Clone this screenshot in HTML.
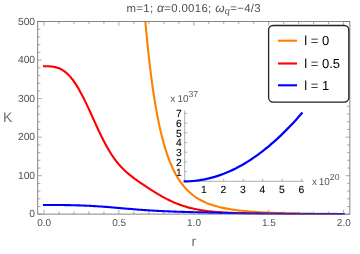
<!DOCTYPE html><html><head><meta charset="utf-8"><style>html,body{margin:0;padding:0;background:#fff}svg{display:block}text{font-family:"Liberation Sans",sans-serif;text-rendering:geometricPrecision}</style></head><body>
<svg width="360" height="254" viewBox="0 0 360 254">
<rect width="360" height="254" fill="#fff"/>
<filter id="nf" x="0" y="0" width="360" height="254" filterUnits="userSpaceOnUse" color-interpolation-filters="sRGB"><feOffset dx="0" dy="0"/></filter><g filter="url(#nf)">
<clipPath id="c"><rect x="37.7" y="21.5" width="312.15000000000003" height="193.0"/></clipPath>
<g clip-path="url(#c)" fill="none" stroke-width="2.1" stroke-linejoin="round" stroke-linecap="square">
<path d="M139.87,-54.97 L140.21,-49.33 L140.55,-43.82 L140.89,-38.45 L141.23,-33.21 L141.57,-28.09 L141.91,-23.10 L142.25,-18.22 L142.59,-13.47 L142.92,-8.82 L143.26,-4.29 L143.60,0.14 L143.94,4.46 L144.28,8.68 L144.62,12.81 L144.96,16.83 L145.30,20.76 L145.64,24.61 L145.98,28.36 L146.32,32.03 L146.66,35.61 L146.99,39.11 L147.33,42.53 L147.67,45.87 L148.01,49.14 L148.35,52.33 L148.69,55.45 L149.03,58.51 L149.37,61.49 L149.71,64.41 L150.05,67.26 L150.39,70.05 L150.73,72.78 L151.06,75.44 L151.40,78.05 L151.74,80.60 L152.08,83.10 L152.42,85.54 L152.76,87.93 L153.10,90.27 L153.44,92.56 L153.78,94.80 L154.12,96.99 L154.46,99.13 L154.80,101.23 L155.13,103.28 L155.47,105.29 L155.81,107.26 L156.15,109.19 L156.49,111.07 L156.83,112.92 L157.17,114.73 L157.51,116.50 L157.85,118.23 L158.19,119.93 L158.53,121.59 L158.87,123.22 L159.20,124.82 L159.54,126.38 L159.88,127.91 L160.22,129.42 L160.56,130.89 L160.90,132.33 L161.24,133.74 L161.58,135.12 L161.92,136.48 L162.26,137.81 L162.60,139.11 L162.94,140.38 L163.27,141.63 L163.61,142.86 L163.95,144.06 L164.29,145.24 L164.63,146.40 L164.97,147.53 L165.31,148.64 L165.65,149.73 L165.99,150.80 L166.33,151.85 L166.67,152.88 L167.01,153.89 L167.34,154.87 L167.68,155.84 L168.02,156.80 L168.36,157.73 L168.70,158.65 L169.04,159.54 L169.38,160.43 L169.72,161.29 L170.06,162.14 L170.40,162.97 L170.74,163.79 L171.08,164.59 L171.41,165.38 L171.75,166.15 L172.09,166.91 L172.43,167.66 L172.77,168.39 L173.11,169.11 L173.45,169.81 L173.79,170.51 L174.13,171.18 L174.47,171.85 L174.81,172.51 L175.15,173.15 L175.48,173.78 L175.82,174.40 L176.16,175.01 L176.50,175.61 L176.84,176.20 L177.18,176.78 L177.52,177.34 L177.86,177.90 L178.20,178.45 L178.54,178.99 L178.88,179.52 L179.22,180.04 L179.55,180.55 L179.89,181.05 L180.23,181.54 L180.57,182.02 L180.91,182.50 L181.25,182.97 L181.59,183.43 L181.93,183.88 L182.27,184.32 L182.61,184.76 L182.95,185.19 L183.29,185.61 L183.62,186.03 L183.96,186.43 L184.30,186.83 L184.64,187.23 L184.98,187.62 L185.32,188.00 L185.66,188.37 L186.00,188.74 L186.34,189.10 L186.68,189.46 L187.02,189.81 L187.36,190.15 L187.69,190.49 L188.03,190.83 L188.37,191.16 L188.71,191.48 L189.05,191.80 L189.39,192.11 L189.73,192.42 L190.07,192.72 L190.41,193.02 L190.75,193.31 L191.09,193.60 L191.43,193.88 L191.76,194.16 L192.10,194.43 L192.44,194.70 L192.78,194.97 L193.12,195.23 L193.46,195.49 L193.80,195.74 L196.34,197.52 L198.88,199.10 L201.42,200.50 L203.96,201.76 L206.49,202.89 L209.03,203.90 L211.57,204.80 L214.11,205.62 L216.65,206.35 L219.19,207.01 L221.73,207.61 L224.27,208.15 L226.81,208.64 L229.35,209.09 L231.88,209.49 L234.42,209.86 L236.96,210.19 L239.50,210.50 L242.04,210.78 L244.58,211.03 L247.12,211.27 L249.66,211.48 L252.20,211.68 L254.74,211.86 L257.27,212.02 L259.81,212.18 L262.35,212.32 L264.89,212.45 L267.43,212.57 L269.97,212.68 L272.51,212.78 L275.05,212.87 L277.59,212.96 L280.13,213.04 L282.66,213.11 L285.20,213.18 L287.74,213.25 L290.28,213.31 L292.82,213.37 L295.36,213.42 L297.90,213.47 L300.44,213.51 L302.98,213.55 L305.52,213.59 L308.05,213.63 L310.59,213.66 L313.13,213.70 L315.67,213.73 L318.21,213.76 L320.75,213.78 L323.29,213.81 L325.83,213.83 L328.37,213.85 L330.91,213.87 L333.44,213.89 L335.98,213.91 L338.52,213.93 L341.06,213.94 L343.60,213.96" stroke="#ff8000"/>
<path d="M44.01,66.26 L44.96,66.26 L45.90,66.26 L46.84,66.27 L47.78,66.28 L48.73,66.32 L49.67,66.36 L50.61,66.43 L51.55,66.51 L52.49,66.62 L53.44,66.76 L54.38,66.93 L55.32,67.13 L56.26,67.37 L57.20,67.65 L58.15,67.97 L59.09,68.33 L60.03,68.74 L60.97,69.20 L61.91,69.71 L62.86,70.28 L63.80,70.90 L64.74,71.58 L65.68,72.32 L66.62,73.12 L67.57,73.98 L68.51,74.90 L69.45,75.89 L70.39,76.94 L71.33,78.06 L72.28,79.24 L73.22,80.48 L74.16,81.79 L75.10,83.16 L76.04,84.60 L76.99,86.09 L77.93,87.64 L78.87,89.25 L79.81,90.92 L80.75,92.64 L81.70,94.40 L82.64,96.22 L83.58,98.07 L84.52,99.97 L85.46,101.90 L86.41,103.87 L87.35,105.87 L88.29,107.89 L89.23,109.93 L90.18,111.98 L91.12,114.05 L92.06,116.13 L93.00,118.21 L93.94,120.29 L94.89,122.37 L95.83,124.43 L96.77,126.48 L97.71,128.52 L98.65,130.53 L99.60,132.52 L100.54,134.49 L101.48,136.42 L102.42,138.31 L103.36,140.18 L104.31,142.00 L105.25,143.78 L106.19,145.52 L107.13,147.21 L108.07,148.86 L109.02,150.46 L109.96,152.01 L110.90,153.52 L111.84,154.98 L112.78,156.39 L113.73,157.75 L114.67,159.07 L115.61,160.34 L116.55,161.57 L117.49,162.75 L118.44,163.89 L119.38,164.99 L120.32,166.05 L121.26,167.07 L122.20,168.06 L123.15,169.02 L124.09,169.94 L125.03,170.83 L125.97,171.70 L126.91,172.54 L127.86,173.36 L128.80,174.15 L129.74,174.92 L130.68,175.68 L131.63,176.42 L132.57,177.14 L133.51,177.85 L134.45,178.55 L135.39,179.24 L136.34,179.92 L137.28,180.59 L138.22,181.25 L139.16,181.91 L140.10,182.56 L141.05,183.20 L141.99,183.84 L142.93,184.47 L143.87,185.10 L144.81,185.73 L145.76,186.36 L146.70,186.98 L147.64,187.59 L148.58,188.21 L149.52,188.81 L150.47,189.42 L151.41,190.02 L152.35,190.62 L153.29,191.21 L154.23,191.80 L155.18,192.38 L156.12,192.96 L157.06,193.53 L158.00,194.10 L158.94,194.65 L159.89,195.21 L160.83,195.75 L161.77,196.29 L162.71,196.81 L163.65,197.33 L164.60,197.85 L165.54,198.35 L166.48,198.84 L167.42,199.33 L168.36,199.80 L169.31,200.26 L170.25,200.72 L171.19,201.16 L172.13,201.60 L173.08,202.02 L174.02,202.43 L174.96,202.84 L175.90,203.23 L176.84,203.61 L177.79,203.98 L178.73,204.34 L179.67,204.69 L180.61,205.03 L181.55,205.36 L182.50,205.68 L183.44,205.99 L184.38,206.29 L185.32,206.58 L186.26,206.86 L187.21,207.13 L188.15,207.39 L189.09,207.65 L190.03,207.89 L190.97,208.13 L191.92,208.35 L192.86,208.57 L193.80,208.78 L196.34,209.31 L198.88,209.79 L201.42,210.22 L203.96,210.60 L206.49,210.95 L209.03,211.25 L211.57,211.53 L214.11,211.77 L216.65,211.99 L219.19,212.19 L221.73,212.36 L224.27,212.51 L226.81,212.65 L229.35,212.78 L231.88,212.89 L234.42,212.99 L236.96,213.08 L239.50,213.16 L242.04,213.23 L244.58,213.29 L247.12,213.35 L249.66,213.41 L252.20,213.45 L254.74,213.50 L257.27,213.54 L259.81,213.58 L262.35,213.61 L264.89,213.64 L267.43,213.67 L269.97,213.70 L272.51,213.73 L275.05,213.75 L277.59,213.77 L280.13,213.80 L282.66,213.82 L285.20,213.83 L287.74,213.85 L290.28,213.87 L292.82,213.88 L295.36,213.90 L297.90,213.91 L300.44,213.93 L302.98,213.94 L305.52,213.95 L308.05,213.96 L310.59,213.98 L313.13,213.99 L315.67,214.00 L318.21,214.01 L320.75,214.02 L323.29,214.03 L325.83,214.03 L328.37,214.04 L330.91,214.05 L333.44,214.06 L335.98,214.06 L338.52,214.07 L341.06,214.08 L343.60,214.08" stroke="#ff0000"/>
<path d="M44.01,205.00 L44.96,205.00 L45.90,205.00 L46.84,205.00 L47.78,205.00 L48.73,205.00 L49.67,205.00 L50.61,205.00 L51.55,205.00 L52.49,205.00 L53.44,205.01 L54.38,205.01 L55.32,205.01 L56.26,205.01 L57.20,205.02 L58.15,205.02 L59.09,205.03 L60.03,205.03 L60.97,205.04 L61.91,205.05 L62.86,205.06 L63.80,205.07 L64.74,205.08 L65.68,205.09 L66.62,205.10 L67.57,205.12 L68.51,205.13 L69.45,205.15 L70.39,205.17 L71.33,205.19 L72.28,205.21 L73.22,205.23 L74.16,205.25 L75.10,205.27 L76.04,205.30 L76.99,205.33 L77.93,205.35 L78.87,205.38 L79.81,205.42 L80.75,205.45 L81.70,205.48 L82.64,205.52 L83.58,205.56 L84.52,205.60 L85.46,205.64 L86.41,205.68 L87.35,205.72 L88.29,205.77 L89.23,205.82 L90.18,205.87 L91.12,205.92 L92.06,205.97 L93.00,206.02 L93.94,206.08 L94.89,206.13 L95.83,206.19 L96.77,206.25 L97.71,206.31 L98.65,206.38 L99.60,206.44 L100.54,206.51 L101.48,206.57 L102.42,206.64 L103.36,206.71 L104.31,206.78 L105.25,206.85 L106.19,206.92 L107.13,207.00 L108.07,207.07 L109.02,207.15 L109.96,207.22 L110.90,207.30 L111.84,207.38 L112.78,207.46 L113.73,207.54 L114.67,207.62 L115.61,207.70 L116.55,207.78 L117.49,207.86 L118.44,207.94 L119.38,208.02 L120.32,208.10 L121.26,208.19 L122.20,208.27 L123.15,208.35 L124.09,208.43 L125.03,208.51 L125.97,208.60 L126.91,208.68 L127.86,208.76 L128.80,208.84 L129.74,208.92 L130.68,209.00 L131.63,209.07 L132.57,209.15 L133.51,209.23 L134.45,209.31 L135.39,209.38 L136.34,209.46 L137.28,209.53 L138.22,209.60 L139.16,209.68 L140.10,209.75 L141.05,209.82 L141.99,209.89 L142.93,209.95 L143.87,210.02 L144.81,210.09 L145.76,210.15 L146.70,210.22 L147.64,210.28 L148.58,210.34 L149.52,210.40 L150.47,210.46 L151.41,210.52 L152.35,210.57 L153.29,210.63 L154.23,210.68 L155.18,210.73 L156.12,210.79 L157.06,210.84 L158.00,210.89 L158.94,210.93 L159.89,210.98 L160.83,211.03 L161.77,211.07 L162.71,211.12 L163.65,211.16 L164.60,211.20 L165.54,211.24 L166.48,211.29 L167.42,211.32 L168.36,211.36 L169.31,211.40 L170.25,211.44 L171.19,211.47 L172.13,211.51 L173.08,211.54 L174.02,211.58 L174.96,211.61 L175.90,211.65 L176.84,211.68 L177.79,211.71 L178.73,211.74 L179.67,211.77 L180.61,211.80 L181.55,211.83 L182.50,211.86 L183.44,211.89 L184.38,211.92 L185.32,211.95 L186.26,211.98 L187.21,212.00 L188.15,212.03 L189.09,212.06 L190.03,212.09 L190.97,212.11 L191.92,212.14 L192.86,212.16 L193.80,212.19 L196.34,212.26 L198.88,212.33 L201.42,212.40 L203.96,212.46 L206.49,212.53 L209.03,212.60 L211.57,212.66 L214.11,212.73 L216.65,212.79 L219.19,212.85 L221.73,212.92 L224.27,212.98 L226.81,213.04 L229.35,213.09 L231.88,213.15 L234.42,213.21 L236.96,213.26 L239.50,213.31 L242.04,213.36 L244.58,213.41 L247.12,213.46 L249.66,213.50 L252.20,213.55 L254.74,213.59 L257.27,213.63 L259.81,213.66 L262.35,213.70 L264.89,213.73 L267.43,213.76 L269.97,213.79 L272.51,213.82 L275.05,213.85 L277.59,213.87 L280.13,213.90 L282.66,213.92 L285.20,213.94 L287.74,213.96 L290.28,213.98 L292.82,214.00 L295.36,214.01 L297.90,214.03 L300.44,214.04 L302.98,214.05 L305.52,214.06 L308.05,214.08 L310.59,214.09 L313.13,214.10 L315.67,214.10 L318.21,214.11 L320.75,214.12 L323.29,214.13 L325.83,214.13 L328.37,214.14 L330.91,214.15 L333.44,214.15 L335.98,214.16 L338.52,214.16 L341.06,214.17 L343.60,214.17" stroke="#0000ff"/>
</g>
<rect x="37.7" y="21.5" width="312.15000000000003" height="192.6" fill="none" stroke="#707070" stroke-width="0.85"/>
<path d="M44.00,214.1v-4.3M44.00,21.5v4.3M58.98,214.1v-2.7M58.98,21.5v2.7M73.96,214.1v-2.7M73.96,21.5v2.7M88.94,214.1v-2.7M88.94,21.5v2.7M103.92,214.1v-2.7M103.92,21.5v2.7M118.90,214.1v-4.3M118.90,21.5v4.3M133.88,214.1v-2.7M133.88,21.5v2.7M148.86,214.1v-2.7M148.86,21.5v2.7M163.84,214.1v-2.7M163.84,21.5v2.7M178.82,214.1v-2.7M178.82,21.5v2.7M193.80,214.1v-4.3M193.80,21.5v4.3M208.78,214.1v-2.7M208.78,21.5v2.7M223.76,214.1v-2.7M223.76,21.5v2.7M238.74,214.1v-2.7M238.74,21.5v2.7M253.72,214.1v-2.7M253.72,21.5v2.7M268.70,214.1v-4.3M268.70,21.5v4.3M283.68,214.1v-2.7M283.68,21.5v2.7M298.66,214.1v-2.7M298.66,21.5v2.7M313.64,214.1v-2.7M313.64,21.5v2.7M328.62,214.1v-2.7M328.62,21.5v2.7M343.60,214.1v-4.3M343.60,21.5v4.3M37.7,214.25h4.3M349.85,214.25h-4.3M37.7,206.54h2.7M349.85,206.54h-2.7M37.7,198.83h2.7M349.85,198.83h-2.7M37.7,191.13h2.7M349.85,191.13h-2.7M37.7,183.42h2.7M349.85,183.42h-2.7M37.7,175.71h4.3M349.85,175.71h-4.3M37.7,168.00h2.7M349.85,168.00h-2.7M37.7,160.29h2.7M349.85,160.29h-2.7M37.7,152.59h2.7M349.85,152.59h-2.7M37.7,144.88h2.7M349.85,144.88h-2.7M37.7,137.17h4.3M349.85,137.17h-4.3M37.7,129.46h2.7M349.85,129.46h-2.7M37.7,121.75h2.7M349.85,121.75h-2.7M37.7,114.05h2.7M349.85,114.05h-2.7M37.7,106.34h2.7M349.85,106.34h-2.7M37.7,98.63h4.3M349.85,98.63h-4.3M37.7,90.92h2.7M349.85,90.92h-2.7M37.7,83.21h2.7M349.85,83.21h-2.7M37.7,75.51h2.7M349.85,75.51h-2.7M37.7,67.80h2.7M349.85,67.80h-2.7M37.7,60.09h4.3M349.85,60.09h-4.3M37.7,52.38h2.7M349.85,52.38h-2.7M37.7,44.67h2.7M349.85,44.67h-2.7M37.7,36.97h2.7M349.85,36.97h-2.7M37.7,29.26h2.7M349.85,29.26h-2.7M37.7,21.55h4.3M349.85,21.55h-4.3" stroke="#666" stroke-width="0.55" fill="none"/>
<text x="44.2" y="225.55" font-size="10" fill="#505050" text-anchor="middle">0.0</text>
<text x="119.1" y="225.55" font-size="10" fill="#505050" text-anchor="middle">0.5</text>
<text x="194.0" y="225.55" font-size="10" fill="#505050" text-anchor="middle">1.0</text>
<text x="268.9" y="225.55" font-size="10" fill="#505050" text-anchor="middle">1.5</text>
<text x="343.8" y="225.55" font-size="10" fill="#505050" text-anchor="middle">2.0</text>
<text x="35.1" y="217.4" font-size="10.3" fill="#505050" text-anchor="end">0</text>
<text x="35.1" y="178.9" font-size="10.3" fill="#505050" text-anchor="end">100</text>
<text x="35.1" y="140.3" font-size="10.3" fill="#505050" text-anchor="end">200</text>
<text x="35.1" y="101.8" font-size="10.3" fill="#505050" text-anchor="end">300</text>
<text x="35.1" y="63.2" font-size="10.3" fill="#505050" text-anchor="end">400</text>
<text x="35.1" y="24.7" font-size="10.3" fill="#505050" text-anchor="end">500</text>
<text x="3.1" y="122.4" font-size="14" fill="#6e6e6e">K</text>
<text x="193.8" y="245.8" font-size="13.8" fill="#6e6e6e" text-anchor="middle">r</text>
<text x="126.5" y="11.6" font-size="11.4" fill="#505050" textLength="134.2" lengthAdjust="spacing">m=1; <tspan font-style="italic" font-size="12">α</tspan>=0.0016; <tspan font-style="italic" font-size="12">ω</tspan><tspan font-style="italic" font-size="9" dy="2.3">q</tspan><tspan dy="-2.3">=−4/3</tspan></text>
<path d="M184.7,110.60000000000002V181.3H303.7" stroke="#9a9a9a" stroke-width="0.8" fill="none"/>
<path d="M204.20,181.3v-2.5M223.70,181.3v-2.5M243.20,181.3v-2.5M262.70,181.3v-2.5M282.20,181.3v-2.5M301.70,181.3v-2.5M184.7,171.60h2.5M184.7,161.90h2.5M184.7,152.20h2.5M184.7,142.50h2.5M184.7,132.80h2.5M184.7,123.10h2.5M184.7,113.40h2.5" stroke="#9a9a9a" stroke-width="0.8" fill="none"/>
<text x="203.9" y="193.4" font-size="10.3" fill="#000" stroke="#000" stroke-width="0.1" text-anchor="middle">1</text>
<text x="223.4" y="193.4" font-size="10.3" fill="#000" stroke="#000" stroke-width="0.1" text-anchor="middle">2</text>
<text x="242.9" y="193.4" font-size="10.3" fill="#000" stroke="#000" stroke-width="0.1" text-anchor="middle">3</text>
<text x="262.4" y="193.4" font-size="10.3" fill="#000" stroke="#000" stroke-width="0.1" text-anchor="middle">4</text>
<text x="281.9" y="193.4" font-size="10.3" fill="#000" stroke="#000" stroke-width="0.1" text-anchor="middle">5</text>
<text x="301.4" y="193.4" font-size="10.3" fill="#000" stroke="#000" stroke-width="0.1" text-anchor="middle">6</text>
<text x="181.8" y="175.5" font-size="10.3" fill="#000" stroke="#000" stroke-width="0.1" text-anchor="end">1</text>
<text x="181.8" y="165.8" font-size="10.3" fill="#000" stroke="#000" stroke-width="0.1" text-anchor="end">2</text>
<text x="181.8" y="156.1" font-size="10.3" fill="#000" stroke="#000" stroke-width="0.1" text-anchor="end">3</text>
<text x="181.8" y="146.4" font-size="10.3" fill="#000" stroke="#000" stroke-width="0.1" text-anchor="end">4</text>
<text x="181.8" y="136.7" font-size="10.3" fill="#000" stroke="#000" stroke-width="0.1" text-anchor="end">5</text>
<text x="181.8" y="127.0" font-size="10.3" fill="#000" stroke="#000" stroke-width="0.1" text-anchor="end">6</text>
<text x="181.8" y="117.3" font-size="10.3" fill="#000" stroke="#000" stroke-width="0.1" text-anchor="end">7</text>
<text x="170.3" y="101.5" font-size="10" fill="#555" word-spacing="-0.7">x 10<tspan font-size="8.7" dy="-4.5">37</tspan></text>
<text x="312" y="184.5" font-size="10" fill="#555" word-spacing="-1.1">x 10<tspan font-size="8.7" dy="-4.3">20</tspan></text>
<path d="M184.70,181.30 L187.70,181.26 L190.70,181.12 L193.70,180.90 L196.70,180.59 L199.70,180.18 L202.70,179.69 L205.70,179.11 L208.70,178.44 L211.70,177.68 L214.70,176.83 L217.70,175.90 L220.70,174.87 L223.70,173.75 L226.70,172.55 L229.70,171.25 L232.70,169.87 L235.70,168.39 L238.70,166.83 L241.70,165.18 L244.70,163.43 L247.70,161.60 L250.70,159.68 L253.70,157.67 L256.70,155.57 L259.70,153.38 L262.70,151.10 L265.70,148.74 L268.70,146.28 L271.70,143.73 L274.70,141.10 L277.70,138.37 L280.70,135.56 L283.70,132.66 L286.70,129.66 L289.70,126.58 L292.70,123.41 L295.70,120.15 L298.70,116.80 L301.70,113.36" stroke="#0000ff" stroke-width="2.25" fill="none" stroke-linejoin="round" stroke-linecap="square"/>
<rect x="268.6" y="25.5" width="80.2" height="76.6" rx="4.5" ry="4.5" fill="#fff" stroke="#222" stroke-width="1.3"/>
<path d="M278,40.7H297" stroke="#ff8000" stroke-width="2.1"/>
<text x="304.3" y="44.9" font-size="13" fill="#000">l = 0</text>
<path d="M278,63.5H297" stroke="#ff0000" stroke-width="2.1"/>
<text x="304.3" y="67.7" font-size="13" fill="#000">l = 0.5</text>
<path d="M278,85.3H297" stroke="#0000ff" stroke-width="2.1"/>
<text x="304.3" y="89.5" font-size="13" fill="#000">l = 1</text>
</g></svg></body></html>
